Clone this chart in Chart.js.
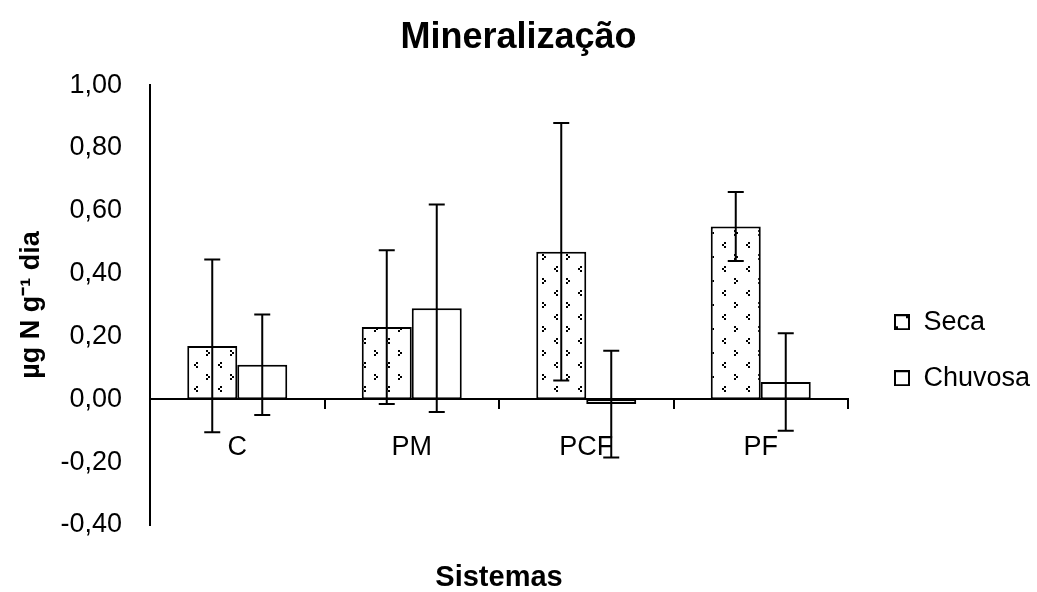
<!DOCTYPE html>
<html>
<head>
<meta charset="utf-8">
<script src="https://cdn.jsdelivr.net/npm/chart.js@4.4.1/dist/chart.umd.min.js"></script>
<style>
  html, body { margin: 0; padding: 0; background: #fff; }
  canvas { display: block; }
</style>
</head>
<body>
<canvas id="mineralChart" width="1037" height="592"></canvas>
<script>
// Dados
const categories = ['C', 'PM', 'PCF', 'PF'];
const seca = [0.17, 0.23, 0.47, 0.55];
const chuvosa = [0.11, 0.29, -0.015, 0.055];
const secaErr = [0.275, 0.245, 0.41, 0.11];
const chuvosaErr = [0.16, 0.33, 0.17, 0.155];
const yTickValues = [-0.4, -0.2, 0, 0.2, 0.4, 0.6, 0.8, 1.0];
const yTickLabels = ['-0,40', '-0,20', '0,00', '0,20', '0,40', '0,60', '0,80', '1,00'];

const FONT = "'Liberation Sans', Arial, sans-serif";

// Textura pontilhada da série Seca
function criarTextura() {
    const c = document.createElement('canvas');
    c.width = 24; c.height = 24;
    const g = c.getContext('2d');
    g.fillStyle = '#fff';
    g.fillRect(0, 0, 24, 24);
    g.fillStyle = '#000';
    // "<"
    g.fillRect(4, 2, 2, 2); g.fillRect(2, 4, 2, 2); g.fillRect(4, 6, 2, 2);
    // ">"
    g.fillRect(14, 14, 2, 2); g.fillRect(16, 16, 2, 2); g.fillRect(14, 18, 2, 2);
    return g.createPattern(c, 'repeat');
}

// Quadrinho da legenda (área transparente à esquerda para posicionar)
function criarIconeLegenda(comPontos) {
    const c = document.createElement('canvas');
    c.width = 33; c.height = 16;
    const g = c.getContext('2d');
    g.fillStyle = '#fff';
    g.fillRect(18, 1, 14, 14);
    if (comPontos) {
        g.fillStyle = '#000';
        g.fillRect(19, 12, 2, 2);
        g.fillRect(29, 2, 2, 2);
    }
    g.strokeStyle = '#000';
    g.lineWidth = 2;
    g.strokeRect(18, 1, 14, 14);
    return c;
}

const textura = criarTextura();
const icones = [criarIconeLegenda(true), criarIconeLegenda(false)];

// Barras de erro
const errorBars = {
    id: 'errorBars',
    afterDatasetsDraw(chart) {
        const ctx = chart.ctx;
        const y = chart.scales.y;
        ctx.save();
        ctx.strokeStyle = '#000';
        ctx.lineWidth = 2;
        chart.data.datasets.forEach((ds, i) => {
            chart.getDatasetMeta(i).data.forEach((bar, j) => {
                const v = ds.data[j];
                const e = ds.errors[j];
                const top = y.getPixelForValue(v + e);
                const bot = y.getPixelForValue(v - e);
                ctx.beginPath();
                ctx.moveTo(bar.x, top); ctx.lineTo(bar.x, bot);
                ctx.moveTo(bar.x - 8, top); ctx.lineTo(bar.x + 8, top);
                ctx.moveTo(bar.x - 8, bot); ctx.lineTo(bar.x + 8, bot);
                ctx.stroke();
            });
        });
        ctx.restore();
    }
};

Chart.defaults.color = '#000';
Chart.defaults.font.family = FONT;

const ctx = document.getElementById('mineralChart').getContext('2d');
const mineralChart = new Chart(ctx, {
    type: 'bar',
    data: {
        labels: categories,
        datasets: [
            {
                label: 'Seca',
                data: seca,
                errors: secaErr,
                backgroundColor: textura,
                borderColor: '#000',
                borderWidth: 2,
                borderSkipped: false,
                categoryPercentage: 0.573,
                barPercentage: 1.0
            },
            {
                label: 'Chuvosa',
                data: chuvosa,
                errors: chuvosaErr,
                backgroundColor: '#fff',
                borderColor: '#000',
                borderWidth: 2,
                borderSkipped: false,
                categoryPercentage: 0.573,
                barPercentage: 1.0
            }
        ]
    },
    options: {
        responsive: false,
        animation: false,
        layout: { padding: 0 },
        plugins: {
            title: {
                display: true,
                text: 'Mineralização',
                font: { size: 36, weight: 'bold', family: FONT },
                padding: { top: 16, bottom: 26 }
            },
            subtitle: {
                display: true,
                text: 'Sistemas',
                position: 'bottom',
                fullSize: false,
                font: { size: 29, weight: 'bold', family: FONT, lineHeight: 1 },
                padding: { top: 38, bottom: 0 }
            },
            legend: {
                position: 'right',
                maxWidth: 189,
                title: { display: true, text: '', padding: { top: 94, bottom: 0 } },
                labels: {
                    font: { size: 27, family: FONT },
                    padding: 29,
                    usePointStyle: true,
                    pointStyleWidth: 33,
                    generateLabels(chart) {
                        const items = Chart.defaults.plugins.legend.labels.generateLabels(chart);
                        items.forEach((it, i) => { it.pointStyle = icones[i]; });
                        return items;
                    }
                }
            },
            tooltip: { enabled: false }
        },
        scales: {
            x: {
                position: { y: 0 },
                afterFit(scale) { scale.height = 0; },
                grid: {
                    display: true,
                    drawOnChartArea: false,
                    drawTicks: true,
                    tickLength: 9,
                    offset: true,
                    color: '#000',
                    lineWidth: 2
                },
                border: { display: true, color: '#000', width: 2 },
                ticks: {
                    font: { size: 27, family: FONT },
                    padding: 23,
                    maxRotation: 0
                }
            },
            y: {
                min: -0.4,
                max: 1.0,
                afterFit(scale) { scale.width = 150; },
                afterBuildTicks(scale) {
                    scale.ticks = yTickValues.map(v => ({ value: v }));
                },
                grid: { display: false },
                border: { display: true, color: '#000', width: 2 },
                ticks: {
                    font: { size: 27, family: FONT },
                    padding: 20,
                    callback: (value, index) => yTickLabels[index]
                },
                title: {
                    display: true,
                    text: 'µg N g⁻¹ dia',
                    font: { size: 27, weight: 'bold', family: FONT },
                    padding: { top: 15, bottom: 0 }
                }
            }
        }
    },
    plugins: [errorBars]
});
</script>
</body>
</html>
